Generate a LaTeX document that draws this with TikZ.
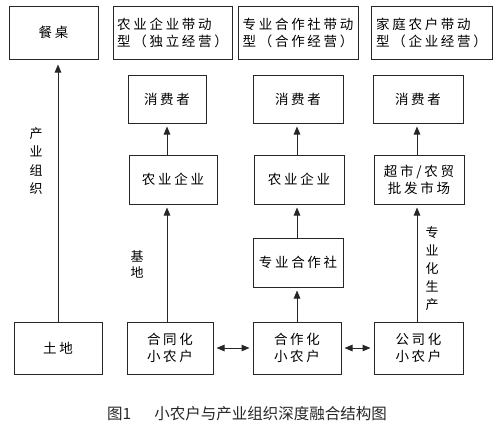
\documentclass[tikz,border=0pt]{standalone}
\usepackage{fontspec}
\newfontfamily\cjk[LetterSpace=20]{Noto Sans CJK SC}
\newfontfamily\cjkcap{Noto Sans CJK SC}
\usetikzlibrary{arrows.meta}

\begin{document}
\begin{tikzpicture}[x=1pt,y=-1pt,>={Triangle[length=8pt,width=6.5pt]},
  box/.style={draw=black!85,line width=1pt,inner sep=0pt,align=center,
    font=\cjk\fontsize{13.5}{17}\selectfont},
  lbl/.style={align=center,inner sep=0pt,font=\cjk\fontsize{13}{18.5}\selectfont},
  link/.style={->,draw=black!85,line width=1pt,shorten >=3pt}]
  \useasboundingbox (0,0) rectangle (503,429);
  \node[box,minimum width=89pt,minimum height=53pt] (canzhuo) at (53.5,32.5) {餐桌};
  \node[box,align=left,minimum width=119pt,minimum height=53pt] (lx1) at (172.5,32.5) {农业企业带动\\型（独立经营）};
  \node[box,align=left,minimum width=120pt,minimum height=53pt] (lx2) at (298,32.5) {专业合作社带动\\型（合作经营）};
  \node[box,align=left,minimum width=121pt,minimum height=53pt] (lx3) at (431.5,32.5) {家庭农户带动\\型（企业经营）};
  \node[box,minimum width=78pt,minimum height=48pt] (xf1) at (167,99) {消费者};
  \node[box,minimum width=90pt,minimum height=48pt] (xf2) at (298,99) {消费者};
  \node[box,minimum width=90pt,minimum height=48pt] (xf3) at (418,99) {消费者};
  \node[box,minimum width=88pt,minimum height=49pt] (qy1) at (173,179.5) {农业企业};
  \node[box,minimum width=90pt,minimum height=49pt] (qy2) at (299,179.5) {农业企业};
  \node[box,minimum width=90pt,minimum height=49pt] (shichang) at (419,179.5) {超市/农贸\\批发市场};
  \node[box,minimum width=90pt,minimum height=49pt] (hzs) at (298,262.5) {专业合作社};
  \node[box,minimum width=88pt,minimum height=52pt] (tudi) at (58,348) {土地};
  \node[box,minimum width=86pt,minimum height=52pt] (hth) at (170,348) {合同化\\小农户};
  \node[box,minimum width=88pt,minimum height=52pt] (hzh) at (297,348) {合作化\\小农户};
  \node[box,minimum width=89pt,minimum height=52pt] (gsh) at (418.5,348) {公司化\\小农户};
  \coordinate (c0) at (58,0);
  \coordinate (c1) at (167,0);
  \coordinate (c2) at (297,0);
  \coordinate (c3) at (417,0);
  \draw[link,shorten >=5pt] (tudi.north -| c0) -- (canzhuo.south -| c0);
  \draw[link] (hth.north -| c1) -- (qy1.south -| c1);
  \draw[link] (qy1.north -| c1) -- (xf1.south -| c1);
  \draw[link] (hzh.north -| c2) -- (hzs.south -| c2);
  \draw[link] (hzs.north -| c2) -- (qy2.south -| c2);
  \draw[link] (qy2.north -| c2) -- (xf2.south -| c2);
  \draw[link] (gsh.north -| c3) -- (shichang.south -| c3);
  \draw[link] (shichang.north -| c3) -- (xf3.south -| c3);
  \draw[link,<->,shorten <=3pt] (hth) -- (hzh);
  \draw[link,<->,shorten <=3pt] (hzh) -- (gsh);
  \node[lbl] (chanye) at (36,161) {产\\业\\组\\织};
  \node[lbl,font=\cjk\fontsize{13}{16}\selectfont] (jidi) at (137,264) {基\\地};
  \node[lbl,font=\cjk\fontsize{13}{18}\selectfont] (zhuanye) at (432,269) {专\\业\\化\\生\\产};
  \node[font=\cjkcap\fontsize{15.5}{18}\selectfont,text=black!85] (caption) at (247,414)
    {图1\hspace{23pt}小农户与产业组织深度融合结构图};
\end{tikzpicture}
\end{document}
